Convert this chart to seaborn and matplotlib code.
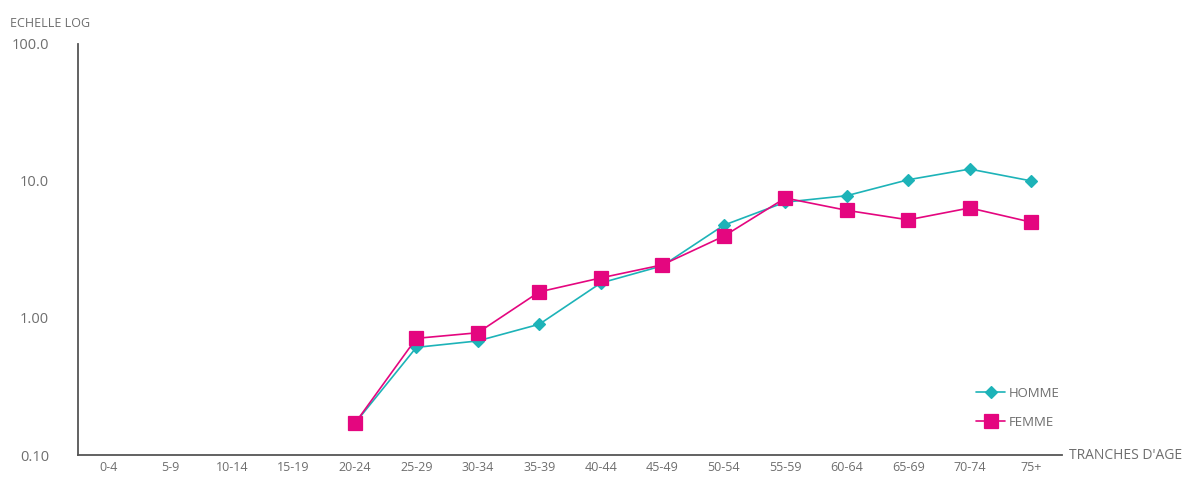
import pandas as pd
import matplotlib
matplotlib.use("Agg")
import matplotlib.pyplot as plt
import seaborn as sns

# tranches d'age et valeurs (echelle log)
ages = ['0-4', '5-9', '10-14', '15-19', '20-24', '25-29', '30-34', '35-39',
        '40-44', '45-49', '50-54', '55-59', '60-64', '65-69', '70-74', '75+']
homme = [None, None, None, None, 0.17, 0.61, 0.68, 0.90, 1.80, 2.40,
         4.75, 7.0, 7.8, 10.2, 12.2, 10.0]
femme = [None, None, None, None, 0.17, 0.71, 0.78, 1.55, 1.96, 2.44,
         3.95, 7.5, 6.1, 5.2, 6.35, 5.0]
ytick_values = [0.1, 1, 10, 100]
ytick_labels = ['0.10', '1.00', '10.0', '100.0']

df = pd.DataFrame({'age': ages, 'HOMME': homme, 'FEMME': femme})

sns.set_style("white")
plt.rcParams['font.family'] = ['Open Sans', 'DejaVu Sans']

grey = '#6e6e6e'
fig = plt.figure(figsize=(12.02, 4.82), dpi=100)
ax = fig.add_axes([0.065, 0.056, 0.8185, 0.853])
ax.set_yscale('log')

sns.pointplot(data=df, x='age', y='HOMME', order=ages, color='#1db3b8',
              markers='D', markersize=6, linewidth=1.2, label='HOMME', ax=ax)
sns.pointplot(data=df, x='age', y='FEMME', order=ages, color='#e4067f',
              markers='s', markersize=9.5, linewidth=1.2, label='FEMME', ax=ax)

ax.set_xlim(-0.5, len(ages) - 0.5)
ax.set_ylim(0.1, 100)
ax.set_yticks(ytick_values)
ax.set_yticklabels(ytick_labels)
ax.yaxis.set_minor_locator(matplotlib.ticker.NullLocator())
ax.set_xticks(range(len(ages)))
ax.set_xticklabels(ages)
ax.set_xticks([i + 0.5 for i in range(len(ages) - 1)], minor=True)

for side in ['top', 'right']:
    ax.spines[side].set_visible(False)
for side in ['left', 'bottom']:
    ax.spines[side].set_color('#555555')
    ax.spines[side].set_linewidth(1.3)

ax.tick_params(axis='x', which='major', length=0, pad=4, labelsize=9, labelcolor=grey)
ax.tick_params(axis='x', which='minor', length=5, direction='inout', color='#555555')
ax.tick_params(axis='y', which='major', length=4, direction='out', pad=17,
               labelsize=10.5, labelcolor=grey, color='#555555')

ax.set_xlabel('')
ax.set_ylabel('')
fig.text(0.008, 0.952, 'ECHELLE LOG', fontsize=9, color=grey, ha='left', va='center')
ax.annotate("TRANCHES D'AGE", xy=(1.0, 0.0), xycoords='axes fraction',
            xytext=(5, 0), textcoords='offset points', fontsize=10,
            color=grey, ha='left', va='center')

leg = ax.legend(loc='lower right', bbox_to_anchor=(1.01, 0.035), frameon=False,
                fontsize=9.5, labelcolor=grey, handlelength=2.2,
                handletextpad=0.3, labelspacing=1.2)

fig.savefig('out.png', dpi=100)
